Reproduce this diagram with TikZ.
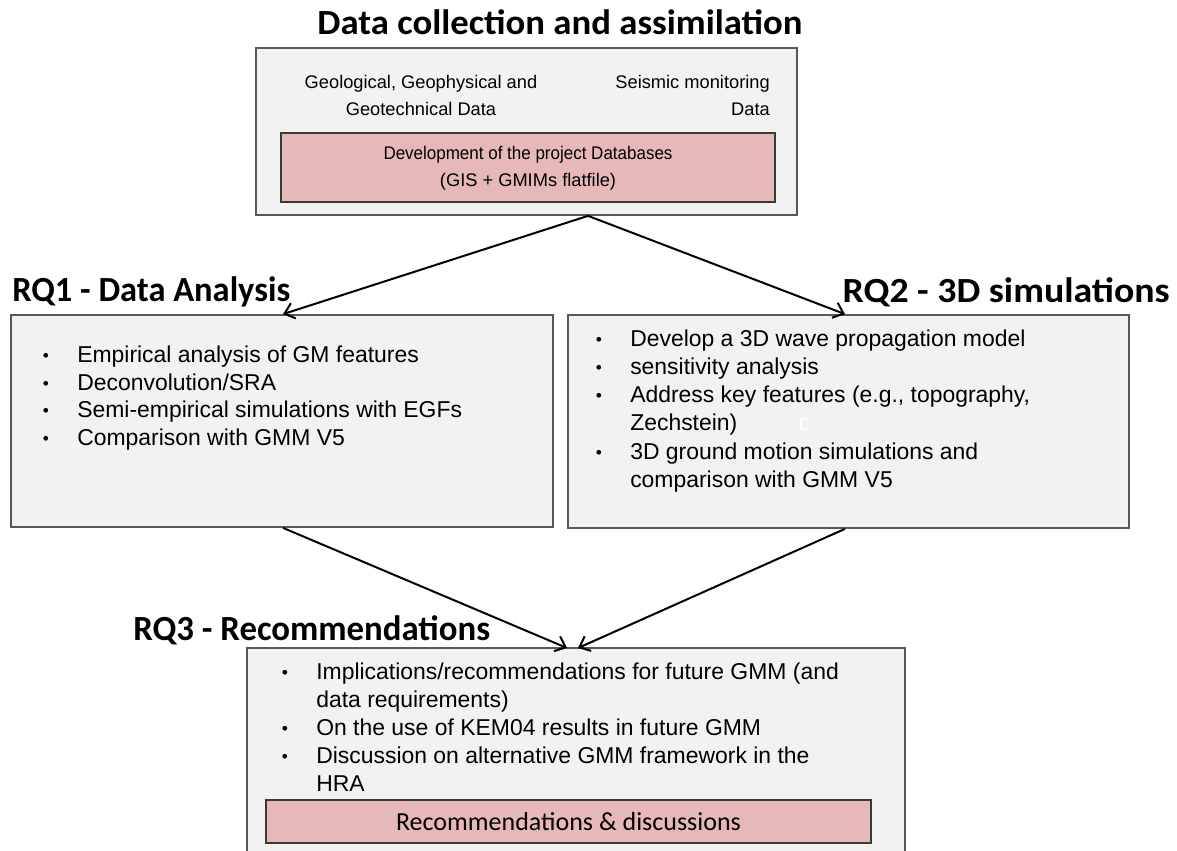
\documentclass[tikz,border=0pt]{standalone}
\usepackage{fontspec}
\usepackage{graphicx}
\setmainfont{Liberation Sans}
\newfontfamily\calib{Carlito}
\usetikzlibrary{arrows.meta,fit}
\definecolor{boxgray}{HTML}{F2F2F2}
\definecolor{boxline}{HTML}{595959}
\definecolor{pinkfill}{HTML}{E6B9B8}
\definecolor{pinkline}{HTML}{3A3A3A}
\begin{document}
\begin{tikzpicture}[x=0.75pt,y=-0.75pt,
  box/.style={draw=boxline, fill=boxgray, line width=1.3pt, inner sep=0pt},
  pinkbox/.style={draw=pinkline, fill=pinkfill, line width=1pt, inner sep=0pt},
  title/.style={font=\calib\bfseries\fontsize{26.5}{30}\selectfont, inner sep=0pt},
  body/.style={font=\fontsize{17.2}{20}\selectfont, inner sep=0pt, anchor=base west},
  bul/.style={font=\fontsize{13}{20}\selectfont, inner sep=0pt, anchor=base},
  small/.style={font=\fontsize{13.7}{20.25}\selectfont, inner sep=0pt},
  arr/.style={line width=1.5pt, -{Straight Barb[length=7pt,width=12pt,line width=1.5pt]}}
]
\useasboundingbox (0,0) rectangle (1177,850);
\fill[white] (0,0) rectangle (1177,850);

% top block
\node[title] (ttop) at (560,22) {\scalebox{1.04}[1]{Data collection and assimilation}};
\node[box, fit={(256,48) (797,215)}] (top) {};
\node[pinkbox, fit={(281,133) (775,202)}] (db) {};
\node[small, align=center] (geo) at (421,95) {Geological, Geophysical and\\Geotechnical Data};
\node[small, align=right, anchor=east] (seis) at (770,95) {Seismic monitoring\\Data};
\node[small, align=center] (dbt) at (528,168) {\scalebox{0.93}[1]{Development of the project Databases}\\(GIS + GMIMs flatfile)};

% RQ1
\node[title, anchor=west] (t1) at (12,292) {\scalebox{0.975}[1]{RQ1 - Data Analysis}};
\node[box, fit={(11,315) (553,527)}] (rq1) {};
\node[bul] (b11) at (46,361) {\textbullet};
\node[body] (l11) at (77,362) {Empirical analysis of GM features};
\node[bul] (b12) at (46,389) {\textbullet};
\node[body] (l12) at (77,390) {Deconvolution/SRA};
\node[bul] (b13) at (46,416) {\textbullet};
\node[body] (l13) at (77,417) {Semi-empirical simulations with EGFs};
\node[bul] (b14) at (46,444) {\textbullet};
\node[body] (l14) at (77,445) {Comparison with GMM V5};

% RQ2
\node[title, anchor=east] (t2) at (1170,292) {\scalebox{1.07}[1]{RQ2 - 3D simulations}};
\node[box, fit={(568,315) (1129,528)}] (rq2) {};
\node[bul] (b21) at (599,345) {\textbullet};
\node[body] (l21) at (630,346) {Develop a 3D wave propagation model};
\node[bul] (b22) at (599,373) {\textbullet};
\node[body] (l22) at (630,374) {sensitivity analysis};
\node[bul] (b23) at (599,401) {\textbullet};
\node[body] (l23) at (630,402) {Address key features (e.g., topography,};
\node[body] (l24) at (630,430) {Zechstein)};
\node[body, text=white] (cc) at (798,430) {c};
\node[bul] (b25) at (599,458) {\textbullet};
\node[body] (l25) at (630,459) {3D ground motion simulations and};
\node[body] (l26) at (630,487) {comparison with GMM V5};

% RQ3
\node[title, anchor=west] (t3) at (133,630) {\scalebox{0.985}[1]{RQ3 - Recommendations}};
\fill[boxgray] (247,648) rectangle (905,852);
\draw[boxline, line width=1.3pt] (247,853) -- (247,648) -- (905,648) -- (905,853);
\coordinate (rq3n) at (572,648);
\node[bul] (b31) at (285,678) {\textbullet};
\node[body] (l31) at (316,679) {Implications/recommendations for future GMM (and};
\node[body] (l32) at (316,707) {data requirements)};
\node[bul] (b33) at (285,734) {\textbullet};
\node[body] (l33) at (316,735) {On the use of KEM04 results in future GMM};
\node[bul] (b34) at (285,762) {\textbullet};
\node[body] (l34) at (316,763) {Discussion on alternative GMM framework in the};
\node[body] (l35) at (316,791) {HRA};
\node[pinkbox, fit={(266,800) (871,843)}] (rec) {};
\node[font=\calib\fontsize{19.5}{24}\selectfont, inner sep=0pt] (rect) at (rec.center) {Recommendations \& discussions};

% arrows
\coordinate (c588) at (588,0);
\coordinate (c283) at (283,0);
\coordinate (c845) at (845,0);
\coordinate (c567) at (567,0);
\coordinate (c578) at (578,0);
\draw[arr] (top.south -| c588) -- (rq1.north -| c283);
\draw[arr] (top.south -| c588) -- (rq2.north -| c845);
\draw[arr] (rq1.south -| c283) -- (rq3n -| c567);
\draw[arr] (rq2.south -| c845) -- (rq3n -| c578);
\end{tikzpicture}
\end{document}
